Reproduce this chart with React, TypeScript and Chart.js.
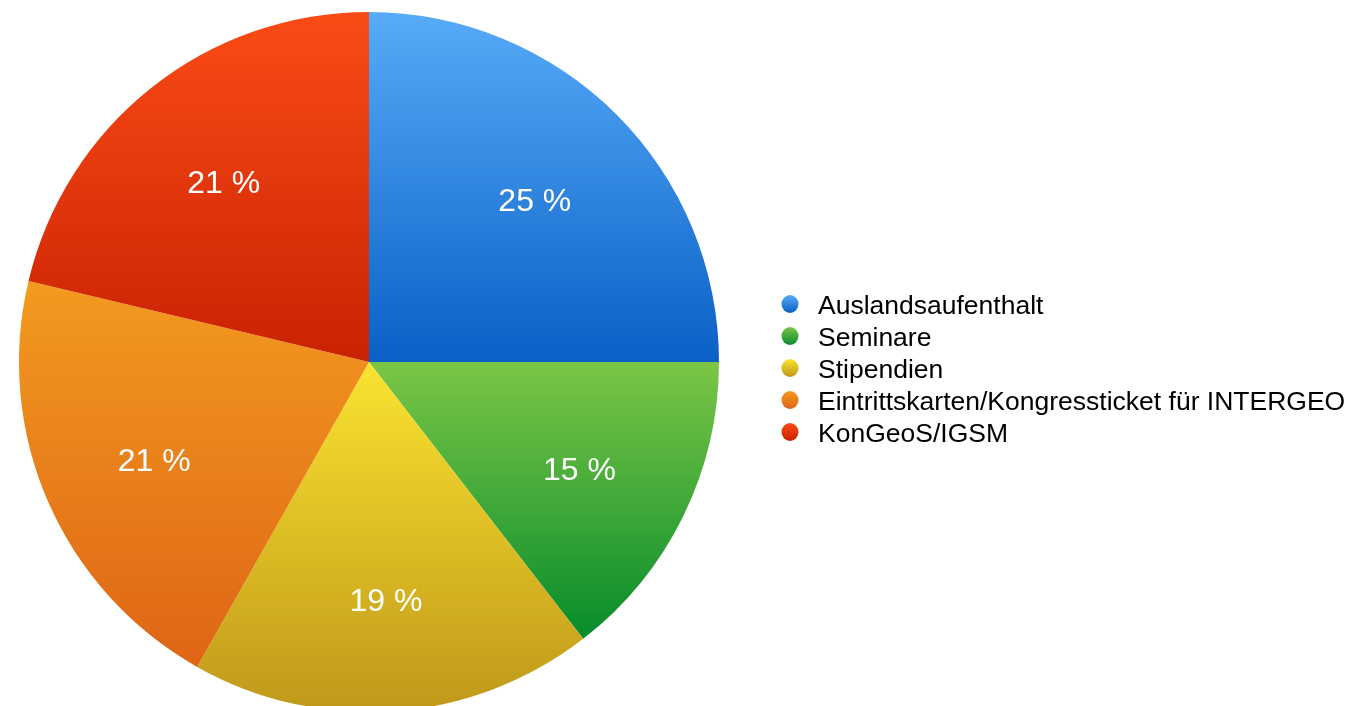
import React, { useEffect, useRef } from "react";
import { Chart, registerables } from "chart.js";

Chart.register(...registerables);

const categories = [
  "Auslandsaufenthalt",
  "Seminare",
  "Stipendien",
  "Eintrittskarten/Kongressticket für INTERGEO",
  "KonGeoS/IGSM",
];
const values = [25, 14.52, 18.65, 20.55, 21.28];
const topColors = ["#57abf8", "#7cc646", "#fae330", "#f39a1f", "#fb4b15"];
const bottomColors = ["#0a60c6", "#078c2c", "#bf981a", "#de6516", "#c92204"];

const FONT = "'Liberation Sans', Arial, Helvetica, sans-serif";

function sliceExtent(chart: any, index: number) {
  const area = chart.chartArea;
  const cx = (area.left + area.right) / 2;
  const cy = (area.top + area.bottom) / 2;
  const r = Math.min(area.right - area.left, area.bottom - area.top) / 2;
  const total = values.reduce((a, b) => a + b, 0);
  let start = -Math.PI / 2;
  for (let i = 0; i < index; i++) start += (values[i] / total) * Math.PI * 2;
  const end = start + (values[index] / total) * Math.PI * 2;
  let minY = cy;
  let maxY = cy;
  const n = 60;
  for (let k = 0; k <= n; k++) {
    const a = start + ((end - start) * k) / n;
    const y = cy + r * Math.sin(a);
    minY = Math.min(minY, y);
    maxY = Math.max(maxY, y);
  }
  return { cx, cy, r, start, end, minY, maxY };
}

const labelPlugin = {
  id: "sliceLabels",
  afterDatasetsDraw(chart: any) {
    const ctx = chart.ctx;
    const meta = chart.getDatasetMeta(0);
    ctx.save();
    ctx.fillStyle = "#ffffff";
    ctx.font = `32px ${FONT}`;
    ctx.textAlign = "center";
    ctx.textBaseline = "alphabetic";
    const total = values.reduce((a, b) => a + b, 0);
    meta.data.forEach((arc: any, i: number) => {
      const mid = (arc.startAngle + arc.endAngle) / 2;
      const rr = arc.outerRadius * 0.67;
      const x = arc.x + Math.cos(mid) * rr;
      const y = arc.y + Math.sin(mid) * rr;
      const pct = Math.round((values[i] / total) * 100);
      ctx.fillText(`${pct} %`, x, y + 15);
    });
    ctx.restore();
  },
};

const legendPlugin = {
  id: "customLegend",
  afterDraw(chart: any) {
    const ctx = chart.ctx;
    ctx.save();
    const x0 = 790;
    const y0 = 304;
    const step = 32;
    categories.forEach((name, i) => {
      const y = y0 + i * step;
      const g = ctx.createLinearGradient(0, y - 9, 0, y + 9);
      g.addColorStop(0, topColors[i]);
      g.addColorStop(1, bottomColors[i]);
      ctx.fillStyle = g;
      ctx.beginPath();
      ctx.ellipse(x0, y, 8.5, 9, 0, 0, Math.PI * 2);
      ctx.fill();
      ctx.fillStyle = "#000000";
      ctx.font = `26.5px ${FONT}`;
      ctx.textAlign = "left";
      ctx.textBaseline = "alphabetic";
      ctx.fillText(name, 818, y + 10);
    });
    ctx.restore();
  },
};

export default function App() {
  const ref = useRef<HTMLCanvasElement>(null);
  useEffect(() => {
    if (!ref.current) return;
    const chart = new Chart(ref.current, {
      type: "pie",
      data: {
        labels: categories,
        datasets: [
          {
            data: values,
            borderWidth: 0,
            backgroundColor: (context: any) => {
              const c = context.chart;
              if (!c.chartArea) return topColors[context.dataIndex];
              const e = sliceExtent(c, context.dataIndex);
              const g = c.ctx.createLinearGradient(0, e.minY, 0, e.maxY);
              g.addColorStop(0, topColors[context.dataIndex]);
              g.addColorStop(1, bottomColors[context.dataIndex]);
              return g;
            },
          },
        ],
      },
      options: {
        responsive: false,
        animation: false,
        layout: { padding: { left: 19, top: 12, right: 645, bottom: 10 } },
        plugins: {
          legend: { display: false },
          tooltip: { enabled: false },
        },
      },
      plugins: [labelPlugin, legendPlugin],
    });
    return () => chart.destroy();
  }, []);
  return (
    <div style={{ position: "fixed", left: 0, top: 0, width: 1364, height: 722, background: "#ffffff" }}>
      <canvas ref={ref} width={1364} height={722} style={{ width: 1364, height: 722, display: "block" }} />
    </div>
  );
}
